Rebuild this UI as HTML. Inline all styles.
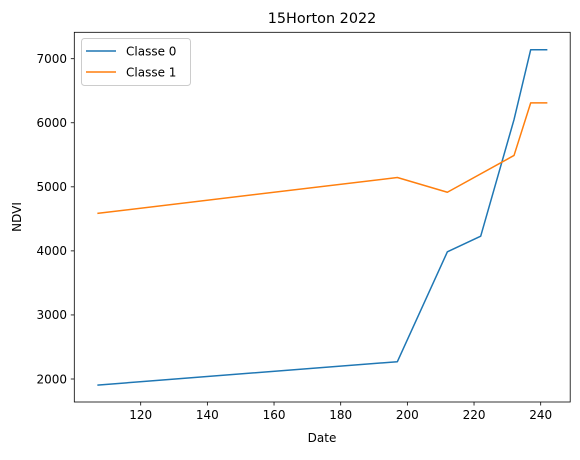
<!DOCTYPE html>
<html><head><meta charset="utf-8"><style>
body{margin:0;background:#fff;}
svg text{font-family:"DejaVu Sans","Liberation Sans",sans-serif;fill:#000;}
</style></head><body>
<svg id="chart" width="580" height="455" xmlns="http://www.w3.org/2000/svg">
<text x="322" y="23" font-size="14.4" text-anchor="middle">15Horton 2022</text>
<g id="axes"></g>
<g id="lines"></g>
<rect x="74.3" y="32.3" width="495.9" height="369.7" fill="none" stroke="#000" stroke-width="0.8"/>
<text x="322" y="442" font-size="12" text-anchor="middle">Date</text>
<text transform="translate(21,217) rotate(-90)" font-size="12" text-anchor="middle">NDVI</text>
<g>
<rect x="81.5" y="38.5" width="109" height="47" rx="3" fill="#fff" stroke="#ccc" stroke-width="1"/>
<line x1="86" y1="51" x2="116" y2="51" stroke="#1f77b4" stroke-width="1.5"/>
<text x="126" y="55.5" font-size="12">Classe 0</text>
<line x1="86" y1="72" x2="116" y2="72" stroke="#ff7f0e" stroke-width="1.5"/>
<text x="126" y="76.5" font-size="12">Classe 1</text>
</g>
</svg>
<script>
const xTicks=[120,140,160,180,200,220,240];
const yTicks=[2000,3000,4000,5000,6000,7000];
const dates0=[107,197,212,222,232,237,242];
const ndvi0=[1905,2270,3985,4230,6050,7140,7140];
const dates1=[107,197,212,232,237,242];
const ndvi1=[4585,5145,4915,5490,6310,6310];
const X=v=>140.7+(v-120)*3.3333;
const Y=v=>58.7+(7000-v)*0.06406;
const NS="http://www.w3.org/2000/svg";
const ax=document.getElementById('axes');
function mk(t,a,p){const e=document.createElementNS(NS,t);for(const k in a)e.setAttribute(k,a[k]);p.appendChild(e);return e;}
xTicks.forEach(v=>{
 const l=mk('line',{x1:X(v),x2:X(v),y1:402,y2:405.5,stroke:'#000','stroke-width':0.8},ax);
 
 
 const t=mk('text',{x:X(v),y:419,'font-size':12,'text-anchor':'middle'},ax);
 
 
 t.textContent=v;
});
yTicks.forEach(v=>{
 const l=mk('line',{x1:70.8,x2:74.3,y1:Y(v),y2:Y(v),stroke:'#000','stroke-width':0.8},ax);
 
 
 const t=mk('text',{x:67,y:Y(v)+4.3,'font-size':12,'text-anchor':'end'},ax);
 
 
 t.textContent=v;
});
const lg=document.getElementById('lines');
[[dates0,ndvi0,'#1f77b4','line-classe-0'],[dates1,ndvi1,'#ff7f0e','line-classe-1']].forEach(([d,v,c,n])=>{
 const p=mk('polyline',{points:d.map((x,i)=>X(x)+','+Y(v[i])).join(' '),fill:'none',stroke:c,'stroke-width':1.5,'stroke-linejoin':'round'},lg);
 
 
});
</script>
</body></html>
